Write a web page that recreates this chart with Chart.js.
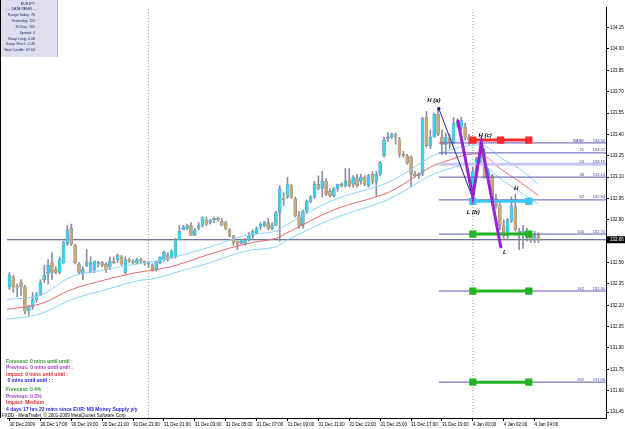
<!DOCTYPE html>
<html lang="en">
<head>
<meta charset="UTF-8">
<title>EURJPY M15</title>
<script src="https://cdn.jsdelivr.net/npm/chart.js"></script>
<style>
  html, body { margin: 0; padding: 0; background: #fff; }
  #wrap { width: 625px; height: 429px; }
</style>
</head>
<body>
<div id="wrap"><canvas id="chart" width="625" height="429"></canvas></div>
<script>
// 15-min bars, one per slot: 30 Dec 15:00 .. 31 Dec 20:45, then 4 Jan 00:00 .. 04:15
const opens = [
  132.33,132.40,132.33,132.36,132.33,132.16,132.19,132.24,132.28,132.38,
  132.42,132.50,132.45,132.43,132.50,132.63,132.74,132.62,132.49,132.42,
  132.48,132.43,132.45,132.49,132.50,132.49,132.47,132.51,132.52,132.54,
  132.43,132.52,132.51,132.50,132.52,132.51,132.49,132.48,132.45,132.50,
  132.52,132.55,132.53,132.54,132.66,132.73,132.74,132.76,132.69,132.74,
  132.76,132.80,132.78,132.80,132.81,132.79,132.78,132.73,132.69,132.65,
  132.64,132.63,132.66,132.69,132.71,132.75,132.76,132.78,132.74,132.76,
  132.85,132.95,132.96,133.04,132.95,132.83,132.76,132.86,132.93,132.96,
  133.05,133.02,133.07,133.00,132.97,133.02,133.05,133.04,133.08,133.05,
  133.09,133.07,133.10,133.04,133.12,133.07,133.12,133.25,133.37,133.38,
  133.40,133.36,133.26,133.25,133.24,133.12,133.11,133.12,133.52,133.32,
  133.38,133.54,133.38,133.33,133.37,133.34,133.47,133.45,133.45,133.38,
  132.97,133.14,133.21,133.26,133.10,133.11,132.95,132.90,132.76,132.69,
  132.79,132.89,132.72,132.70,132.69,132.69,132.66,132.69
];
const highs = [
  132.43,132.41,132.35,132.38,132.34,132.20,132.29,132.29,132.38,132.48,
  132.52,132.57,132.47,132.54,132.65,132.76,132.77,132.63,132.50,132.47,
  132.59,132.54,132.51,132.51,132.51,132.50,132.54,132.54,132.56,132.55,
  132.54,132.53,132.52,132.53,132.53,132.51,132.51,132.49,132.51,132.54,
  132.58,132.57,132.59,132.67,132.76,132.76,132.77,132.78,132.74,132.78,
  132.82,132.82,132.80,132.82,132.82,132.81,132.79,132.74,132.69,132.65,
  132.66,132.67,132.71,132.73,132.75,132.78,132.79,132.81,132.78,132.86,
  133.04,132.99,133.10,133.05,132.96,132.86,132.87,132.94,132.97,133.07,
  133.11,133.14,133.09,133.02,133.03,133.05,133.06,133.16,133.16,133.11,
  133.12,133.12,133.11,133.12,133.14,133.14,133.21,133.38,133.41,133.41,
  133.41,133.38,133.28,133.26,133.25,133.14,133.13,133.52,133.56,133.43,
  133.55,133.58,133.43,133.41,133.40,133.52,133.51,133.52,133.48,133.40,
  133.17,133.24,133.34,133.30,133.16,133.12,132.98,132.92,132.80,132.81,
  132.96,132.98,132.74,132.76,132.74,132.72,132.72,132.71
];
const lows = [
  132.31,132.29,132.26,132.27,132.14,132.13,132.17,132.22,132.27,132.36,
  132.35,132.38,132.42,132.42,132.49,132.62,132.62,132.49,132.42,132.38,
  132.47,132.43,132.43,132.47,132.47,132.43,132.45,132.49,132.50,132.48,
  132.42,132.50,132.49,132.49,132.49,132.48,132.47,132.44,132.44,132.49,
  132.51,132.51,132.53,132.53,132.66,132.73,132.73,132.69,132.69,132.73,
  132.75,132.76,132.77,132.78,132.79,132.76,132.73,132.68,132.62,132.59,
  132.63,132.62,132.65,132.67,132.70,132.73,132.75,132.73,132.73,132.76,
  132.65,132.90,132.95,132.95,132.82,132.74,132.74,132.85,132.92,132.95,
  133.01,132.96,132.97,132.96,132.96,133.00,133.03,133.03,133.03,133.03,
  133.03,133.05,133.04,133.03,133.05,132.97,133.11,133.24,133.35,133.37,
  133.33,133.24,133.24,133.19,133.03,133.10,133.09,133.11,133.31,133.30,
  133.38,133.39,133.26,133.26,133.30,133.33,133.45,133.43,133.36,133.33,
  132.93,133.13,133.19,133.09,133.07,132.90,132.88,132.73,132.67,132.66,
  132.78,132.72,132.59,132.60,132.65,132.64,132.64,132.64
];
const closes = [
  132.41,132.33,132.32,132.33,132.16,132.19,132.24,132.28,132.36,132.41,
  132.48,132.43,132.43,132.52,132.64,132.73,132.63,132.50,132.43,132.45,
  132.50,132.50,132.51,132.50,132.48,132.45,132.51,132.50,132.55,132.49,
  132.52,132.51,132.50,132.52,132.51,132.50,132.50,132.45,132.51,132.54,
  132.57,132.52,132.58,132.66,132.72,132.75,132.76,132.69,132.73,132.76,
  132.82,132.77,132.80,132.81,132.80,132.76,132.74,132.69,132.64,132.63,
  132.65,132.66,132.69,132.72,132.74,132.77,132.78,132.74,132.76,132.85,
  133.02,132.94,133.05,132.96,132.83,132.76,132.86,132.93,132.96,133.05,
  133.02,133.07,132.98,132.97,133.02,133.05,133.04,133.07,133.04,133.10,
  133.04,133.10,133.05,133.11,133.07,133.12,133.20,133.36,133.38,133.40,
  133.38,133.26,133.25,133.20,133.12,133.11,133.12,133.51,133.32,133.38,
  133.54,133.40,133.33,133.38,133.34,133.48,133.49,133.50,133.38,133.36,
  133.14,133.23,133.33,133.10,133.14,132.92,132.90,132.76,132.69,132.80,
  132.90,132.73,132.71,132.72,132.72,132.66,132.69,132.66
];

// moving average (red) and its envelope (light blue), read at sample slots
const maSlots = [-1, 8, 16, 25, 33, 38, 43, 52, 61, 69, 72, 84, 97, 102, 109, 114, 119, 123, 127, 132, 137];
const maMid   = [132.17,132.21,132.31,132.38,132.43,132.45,132.48,132.56,132.63,132.67,132.71,132.87,132.98,133.05,133.17,133.22,133.26,133.25,133.16,133.07,132.97];
const maUpper = [132.24,132.27,132.40,132.45,132.49,132.51,132.54,132.61,132.69,132.72,132.77,132.94,133.05,133.12,133.24,133.29,133.32,133.32,133.24,133.16,133.05];
const maLower = [132.10,132.14,132.24,132.31,132.37,132.39,132.43,132.50,132.58,132.61,132.66,132.81,132.93,133.00,133.11,133.16,133.19,133.18,133.09,133.00,132.91];

// fibonacci levels
const levelNames  = ['BASE', '11', '24', '38', '62', '100', '162', '262'];
const levelValues = [133.34, 133.27, 133.19, 133.10, 132.94, 132.70, 132.30, 131.66];
const levelStart = 111.2;

// coloured target segments with square markers
const segValues = [133.36, 132.93, 132.70, 132.30, 131.66];
const segColors = ['#ff2a2a', '#3cc8ee', '#22b422', '#22b422', '#22b422'];
const segSlots = [120, 127.2, 134.5];

// wave lines
const navySlots = [111.2, 120, 122.4];
const navyPrices = [133.58, 132.95, 133.34];
const purpleSlots = [116.1, 120, 122.2, 127.3];
const purplePrices = [133.50, 132.96, 133.34, 132.60];
const waveLabels = ['H (a)', 'L (b)', 'H (c)', 'H', 'L'];
const waveLabelSlots = [109.9, 120.1, 123.2, 131.2, 128.3];
const waveLabelPrices = [133.64, 132.85, 133.39, 133.02, 132.57];

const currentPrice = 132.66;
const separatorSlots = [36, 120];

const xTickSlots = [0, 8, 16, 24, 32, 40, 48, 56, 64, 72, 80, 88, 96, 104, 112, 120, 128, 136];
const xTickLabels = ['30 Dec 2009', '30 Dec 17:00', '30 Dec 19:00', '30 Dec 21:00', '30 Dec 23:00',
  '31 Dec 01:00', '31 Dec 03:00', '31 Dec 05:00', '31 Dec 07:00', '31 Dec 09:00', '31 Dec 11:00',
  '31 Dec 13:00', '31 Dec 15:00', '31 Dec 17:00', '31 Dec 19:00', '4 Jan 00:00', '4 Jan 02:00', '4 Jan 04:00'];
const yTicks = [131.45, 131.60, 131.75, 131.90, 132.05, 132.20, 132.35, 132.50, 132.65, 132.80,
  132.95, 133.10, 133.25, 133.40, 133.55, 133.70, 133.85, 134.00, 134.15];

const panelLines = ['EURJPY', '.... DATA PANEL ....', 'Range Today: 76', 'Yesterday: 115', '30 Day: 161',
  'Spread: 4', 'Swap Long: 0.08', 'Swap Short: -1.49', 'Next Candle: 07:04'];
const newsLines = ['Forecast: 0 mins until until :', 'Previous: 0 mins until until :',
  'Impact: 0 mins until until :', ' 0 mins until until : :', 'Forecast: 0.4%', 'Previous: 0.3%',
  'Impact: Medium', '4 days 17 hrs 22 mins since EUR: M3 Money Supply y/y'];
const newsColors = ['#2f9a2f', '#a23cc4', '#ee2a2a', '#2424e6', '#2f9a2f', '#a23cc4', '#ee2a2a', '#2424e6'];

const BULL = '#36d4f2';
const BEAR = '#cbaa70';
const X_MIN = -0.641, X_MAX = 154.487;
const Y_MIN = 131.4085, Y_MAX = 134.2943;

const slots = opens.map((_, i) => i);

const datasets = [];

separatorSlots.forEach(s => datasets.push({
  type: 'line', data: [{x: s, y: Y_MIN}, {x: s, y: Y_MAX}],
  borderColor: '#9a9ac4', borderWidth: 1, borderDash: [1, 2], pointRadius: 0, order: 20
}));

datasets.push({
  type: 'line', data: [{x: X_MIN, y: currentPrice}, {x: X_MAX, y: currentPrice}],
  borderColor: '#45457f', borderWidth: 1, pointRadius: 0, order: 19
});

datasets.push({
  type: 'bar', data: slots.map(i => ({x: i, y: [lows[i], highs[i]]})),
  backgroundColor: '#8c8ca4', barThickness: 1, grouped: false, order: 15
});
datasets.push({
  type: 'bar', data: slots.map(i => ({x: i, y: [opens[i], closes[i]]})),
  backgroundColor: slots.map(i => closes[i] >= opens[i] ? BULL : BEAR),
  borderColor: '#8a8a98', borderWidth: 0.5, borderSkipped: false, minBarLength: 1,
  barThickness: 3, grouped: false, order: 14
});

[[maUpper, '#86d3fb'], [maLower, '#86d3fb'], [maMid, '#ee6a6a']].forEach(([vals, col]) => datasets.push({
  type: 'line', data: maSlots.map((s, i) => ({x: s, y: vals[i]})),
  borderColor: col, borderWidth: 1, pointRadius: 0, tension: 0.35, order: 10
}));

levelValues.forEach((v, i) => datasets.push({
  type: 'line', data: [{x: levelStart, y: v}, {x: X_MAX, y: v}],
  borderColor: levelNames[i] === '24' ? '#c6c6f2' : '#5a5ab4',
  borderWidth: levelNames[i] === '24' ? 3 : 1, pointRadius: 0, order: 8
}));

segValues.forEach((v, i) => datasets.push({
  type: 'line', data: segSlots.map(s => ({x: s, y: v})),
  borderColor: segColors[i], backgroundColor: segColors[i], borderWidth: 3,
  pointStyle: 'rect', pointRadius: i === 0 ? [3, 3, 3] : [3, 0, 3], order: 6
}));

datasets.push({
  type: 'line', data: navySlots.map((s, i) => ({x: s, y: navyPrices[i]})),
  borderColor: '#24249a', backgroundColor: '#24249a', borderWidth: 1,
  pointStyle: 'rect', pointRadius: [1.5, 0, 0], order: 4
});
datasets.push({
  type: 'line', data: purpleSlots.map((s, i) => ({x: s, y: purplePrices[i]})),
  borderColor: '#9424d4', borderWidth: 3, pointRadius: 0, order: 3
});

const overlay = {
  id: 'overlay',
  beforeDraw(chart) {
    const c = chart.ctx;
    c.save();
    c.fillStyle = '#fff';
    c.fillRect(0, 0, chart.width, chart.height);
    c.restore();
  },
  afterDraw(chart) {
    const c = chart.ctx, xs = chart.scales.x, ys = chart.scales.y, a = chart.chartArea;
    c.save();

    // left frame
    c.fillStyle = '#000';
    c.fillRect(0, 0, 1, a.bottom);

    // level labels
    c.font = '4px "Liberation Sans"';
    c.fillStyle = '#3434a4';
    c.textBaseline = 'bottom';
    levelValues.forEach((v, i) => {
      const y = ys.getPixelForValue(v);
      c.textAlign = 'right';
      c.fillText(levelNames[i], a.right - 22, y - 0.5);
      c.fillText(v.toFixed(2), a.right - 1, y - 0.5);
    });

    // wave labels
    c.font = 'italic bold 6px "Liberation Sans"';
    c.fillStyle = '#000';
    c.textAlign = 'center';
    c.textBaseline = 'middle';
    waveLabels.forEach((t, i) => {
      c.fillText(t, xs.getPixelForValue(waveLabelSlots[i]), ys.getPixelForValue(waveLabelPrices[i]));
    });

    // data panel
    c.fillStyle = '#dedeee';
    c.fillRect(1, 0, 56, 57);
    c.fillStyle = '#b0b0c8';
    c.fillRect(57, 0, 1, 57);
    c.font = '3.6px "Liberation Sans"';
    c.fillStyle = '#1e1e5a';
    c.textAlign = 'right';
    c.textBaseline = 'middle';
    const panelY = [3.5, 9, 15, 21, 27, 32.5, 38.5, 44, 50];
    panelLines.forEach((t, i) => c.fillText(t, i === 1 ? 38 : 35, panelY[i]));

    // news block
    c.font = 'bold 5px "Liberation Sans"';
    c.textAlign = 'left';
    const newsY = [362, 368, 374.5, 381, 389.5, 396.5, 403, 409.5];
    newsLines.forEach((t, i) => {
      c.fillStyle = newsColors[i];
      c.fillText(t, 6, newsY[i]);
    });
    c.font = '4.5px "Liberation Sans"';
    c.fillStyle = '#000';
    c.fillText('FXDD - MetaTrader, \u00a9 2001-2009 MetaQuotes Software Corp.', 2, 416);

    // current price box
    const py = ys.getPixelForValue(currentPrice);
    c.fillStyle = '#000';
    c.fillRect(a.right + 1, py - 3.5, 18, 7);
    c.fillStyle = '#fff';
    c.font = '4.5px "Liberation Sans"';
    c.textAlign = 'left';
    c.fillText(currentPrice.toFixed(2), a.right + 4, py);
    c.restore();
  }
};

new Chart(document.getElementById('chart'), {
  type: 'bar',
  data: { datasets },
  options: {
    responsive: false,
    animation: false,
    devicePixelRatio: 1,
    layout: { padding: { left: 1, top: 1, right: 0, bottom: 0 } },
    plugins: { legend: { display: false }, tooltip: { enabled: false } },
    scales: {
      x: {
        type: 'linear', min: X_MIN, max: X_MAX, offset: false,
        afterBuildTicks: s => { s.ticks = xTickSlots.map(v => ({ value: v })); },
        afterFit: s => { s.height = 11; },
        ticks: {
          autoSkip: false, maxRotation: 0, minRotation: 0, align: 'start', padding: 1,
          color: '#000', font: { family: 'Liberation Sans', size: 4.5 },
          callback: (v, i) => xTickLabels[i]
        },
        grid: { drawOnChartArea: false, offset: false, tickLength: 3, color: '#000' },
        border: { color: '#000' }
      },
      y: {
        type: 'linear', position: 'right', min: Y_MIN, max: Y_MAX, beginAtZero: false,
        afterBuildTicks: s => { s.ticks = yTicks.map(v => ({ value: v })); },
        afterFit: s => { s.width = 19; },
        ticks: {
          padding: 1, color: '#000', font: { family: 'Liberation Sans', size: 4.5 },
          callback: v => v.toFixed(2)
        },
        grid: { drawOnChartArea: false, tickLength: 3, color: '#000' },
        border: { color: '#000' }
      }
    }
  },
  plugins: [overlay]
});
</script>
</body>
</html>
